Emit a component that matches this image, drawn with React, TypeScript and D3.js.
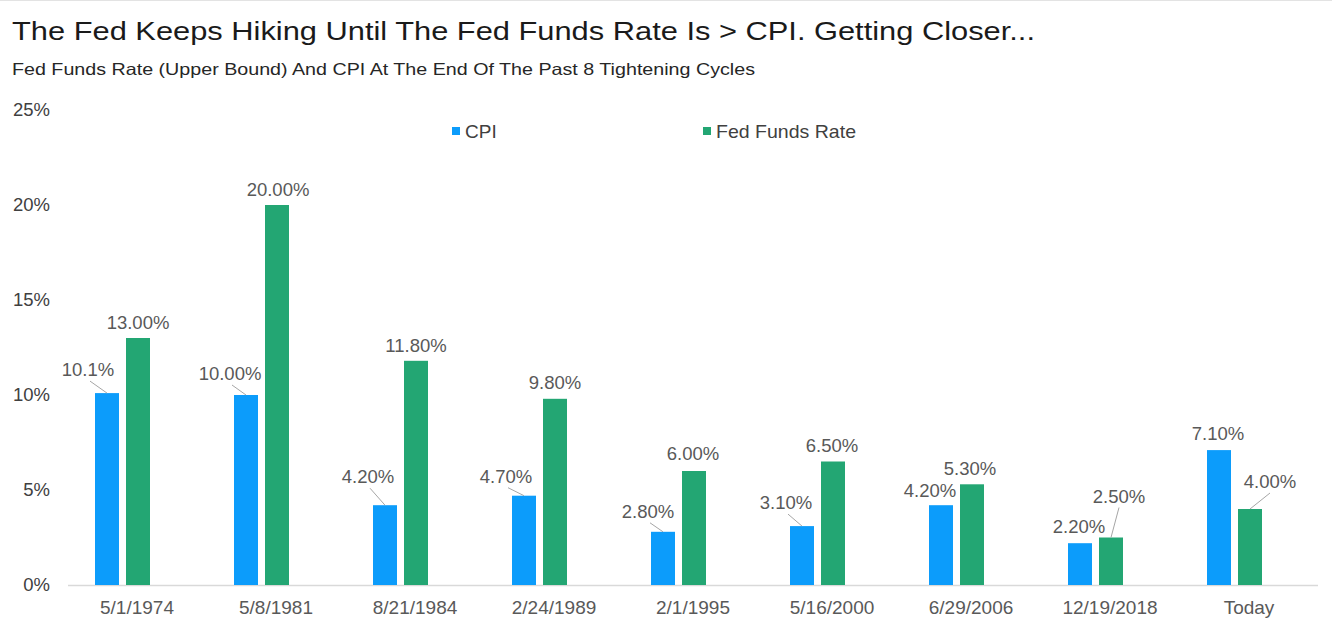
import React from "react";
import * as d3 from "d3";

const categories = ["5/1/1974", "5/8/1981", "8/21/1984", "2/24/1989", "2/1/1995", "5/16/2000", "6/29/2006", "12/19/2018", "Today"];
const cpiValues = [10.1, 10.0, 4.2, 4.7, 2.8, 3.1, 4.2, 2.2, 7.1];
const ffrValues = [13.0, 20.0, 11.8, 9.8, 6.0, 6.5, 5.3, 2.5, 4.0];
const cpiLabels = ["10.1%", "10.00%", "4.20%", "4.70%", "2.80%", "3.10%", "4.20%", "2.20%", "7.10%"];
const ffrLabels = ["13.00%", "20.00%", "11.80%", "9.80%", "6.00%", "6.50%", "5.30%", "2.50%", "4.00%"];
const yTicks = [0, 5, 10, 15, 20, 25];
const seriesNames = ["CPI", "Fed Funds Rate"];

// label placement (layout, relative to bar top centre)
const cpiLabelOffsets: [number, number, boolean][] = [
  [-19, -17, true], [-16, -15, true], [-17, -22, true], [-18, -13, true],
  [-15, -14, true], [-16, -17, true], [-11, -8, false], [-1, -10, false], [-1, -10, false],
];
const ffrLabelOffsets: [number, number, boolean][] = [
  [0, -9, false], [1, -9, false], [0, -9, false], [0, -10, false],
  [-1, -11, false], [-1, -10, false], [-2, -9, false], [8, -35, true], [20, -21, true],
];

const W = 1332;
const H = 629;
const COLORS = ["#0c9cfb", "#23a673"];
const FONT = "'Liberation Sans', Arial, Helvetica, sans-serif";

export default function App() {
  const x = d3.scaleBand<string>().domain(categories).range([53, 1304]);
  const xs = d3.scaleBand<string>().domain(["cpi", "ffr"]).range([0, 55]).paddingInner(7 / 31).paddingOuter(0);
  const y = d3.scaleLinear().domain([0, 25]).range([585, 110]);
  const groupLeft = (c: string) => (x(c) as number) + x.bandwidth() / 2 - 27.5;

  const renderSeries = (key: "cpi" | "ffr", vals: number[], labels: string[], offs: [number, number, boolean][], color: string) =>
    categories.map((c, i) => {
      const bx = groupLeft(c) + (xs(key) as number);
      const bw = xs.bandwidth();
      const top = y(vals[i]);
      const cx = bx + bw / 2;
      const [dx, dy, leader] = offs[i];
      const lx = cx + dx;
      const ly = top + dy;
      return (
        <g key={key + i}>
          <rect x={bx} y={top} width={bw} height={y(0) - top} fill={color} />
          {leader && (
            <line x1={lx + (dx < 0 ? 2 : 0)} y1={ly + 5} x2={cx} y2={top} stroke="#a6a6a6" strokeWidth={1} />
          )}
          <text x={lx} y={ly} textAnchor="middle" fontSize={18.5} fill="#595959">{labels[i]}</text>
        </g>
      );
    });

  return (
    <svg width={W} height={H} style={{ position: "absolute", left: 0, top: 0, background: "#fff" }} fontFamily={FONT}>
      <rect x={0} y={0} width={W} height={H} fill="#fff" />
      <line x1={0} x2={W} y1={0.5} y2={0.5} stroke="#e3e3e3" />
      <text x={12} y={40} fontSize={26.5} fill="#1a1a1a" textLength={1023} lengthAdjust="spacingAndGlyphs">The Fed Keeps Hiking Until The Fed Funds Rate Is &gt; CPI. Getting Closer...</text>
      <text x={12} y={75} fontSize={16.5} fill="#262626" textLength={743} lengthAdjust="spacingAndGlyphs">Fed Funds Rate (Upper Bound) And CPI At The End Of The Past 8 Tightening Cycles</text>

      {yTicks.map((t) => (
        <text key={t} x={50} y={y(t)} dy="0.35em" textAnchor="end" fontSize={18.5} fill="#404040">{t}%</text>
      ))}

      {/* legend */}
      <g>
        <rect x={452} y={127} width={8} height={8} fill={COLORS[0]} />
        <text x={465} y={138} fontSize={19} fill="#404040">{seriesNames[0]}</text>
        <rect x={703} y={127} width={8} height={8} fill={COLORS[1]} />
        <text x={716} y={138} fontSize={19} fill="#404040" textLength={140} lengthAdjust="spacingAndGlyphs">{seriesNames[1]}</text>
      </g>

      <line x1={68} x2={1318} y1={y(0) + 0.5} y2={y(0) + 0.5} stroke="#d9d9d9" strokeWidth={1.5} />

      {renderSeries("cpi", cpiValues, cpiLabels, cpiLabelOffsets, COLORS[0])}
      {renderSeries("ffr", ffrValues, ffrLabels, ffrLabelOffsets, COLORS[1])}

      {categories.map((c) => (
        <text key={c} x={(x(c) as number) + x.bandwidth() / 2 + 14.5} y={614} textAnchor="middle" fontSize={19} fill="#595959">{c}</text>
      ))}
    </svg>
  );
}
